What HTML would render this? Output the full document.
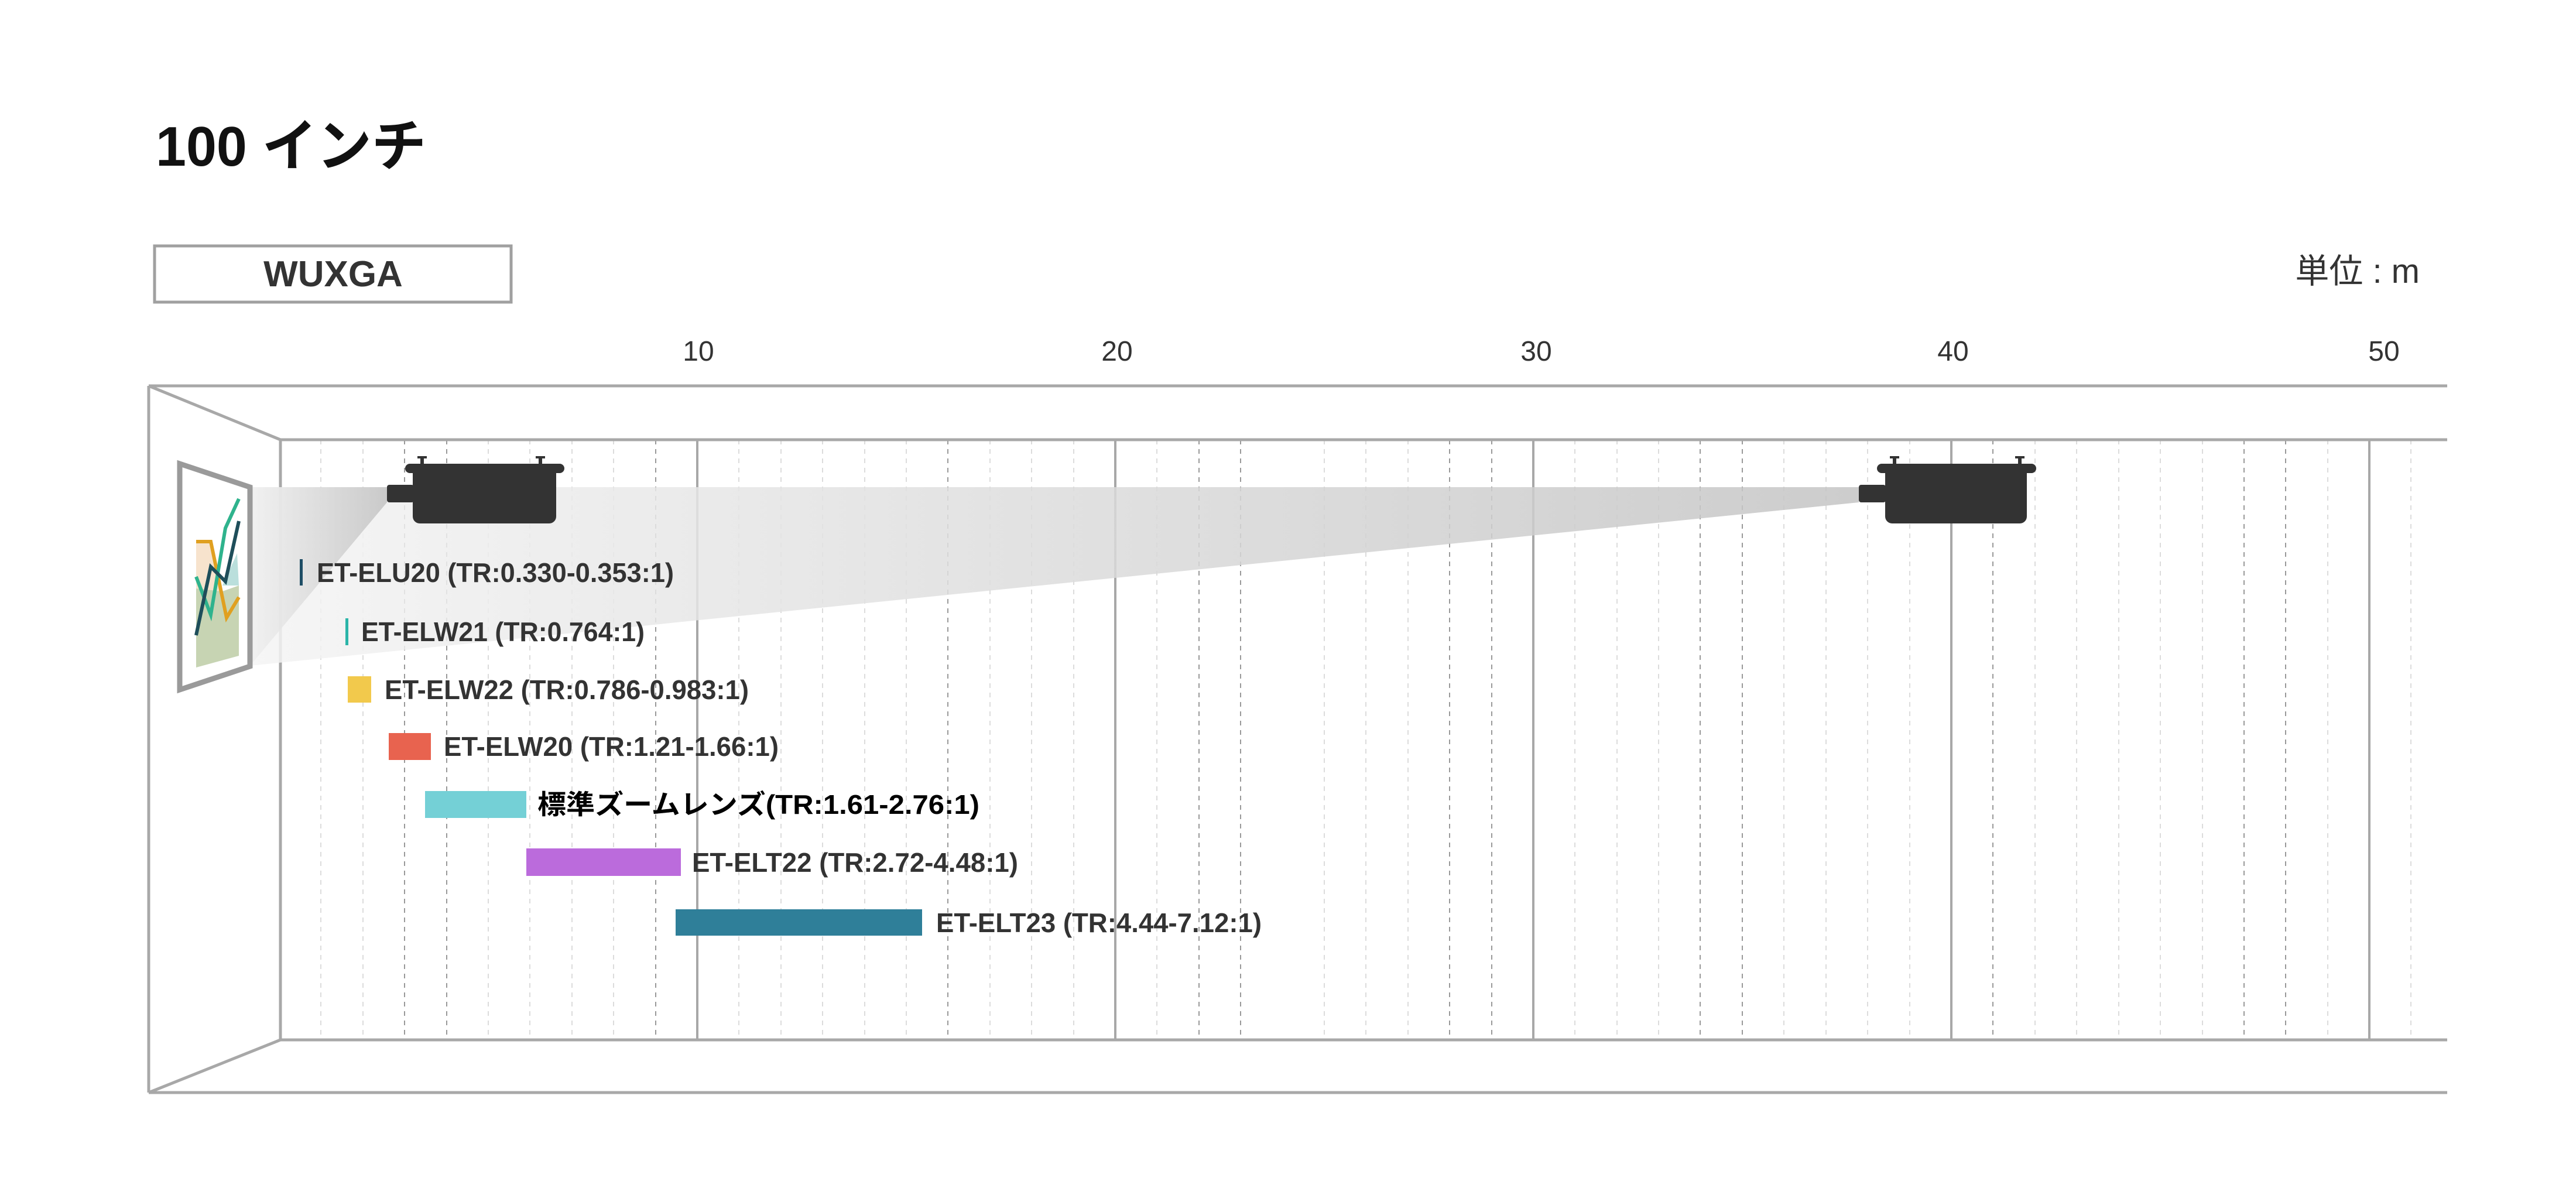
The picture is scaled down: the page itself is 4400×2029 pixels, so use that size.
<!DOCTYPE html>
<html><head><meta charset="utf-8"><style>html,body{margin:0;padding:0;background:#fff}svg{display:block}</style></head><body>
<svg width="4400" height="2029" viewBox="0 0 4400 2029" xmlns="http://www.w3.org/2000/svg">
<defs>
<linearGradient id="gfar" x1="427" y1="0" x2="3175" y2="0" gradientUnits="userSpaceOnUse"><stop offset="0" stop-color="#f4f4f4"/><stop offset="1" stop-color="#c4c4c4"/></linearGradient>
<linearGradient id="gnear" x1="427" y1="0" x2="661" y2="0" gradientUnits="userSpaceOnUse"><stop offset="0" stop-color="#f0f0f0"/><stop offset="1" stop-color="#c0c0c0"/></linearGradient>
</defs>
<rect width="4400" height="2029" fill="#fff"/>
<text x="266" y="283" font-family="Liberation Sans, Noto Sans CJK JP, sans-serif" font-size="96" font-weight="bold" fill="#111" textLength="462" lengthAdjust="spacingAndGlyphs">100 インチ</text>
<rect x="264" y="420" width="609" height="96" fill="#fff" stroke="#a0a0a0" stroke-width="5"/>
<text x="569" y="489" text-anchor="middle" font-family="Liberation Sans, sans-serif" font-size="62" font-weight="bold" fill="#333">WUXGA</text>
<text x="4133" y="483" text-anchor="end" font-family="Liberation Sans, Noto Sans CJK JP, sans-serif" font-size="58" fill="#333">単位 : m</text>
<g font-family="Liberation Sans, sans-serif" font-size="48" fill="#333" text-anchor="middle">
<text x="1193" y="616">10</text><text x="1908" y="616">20</text><text x="2624" y="616">30</text><text x="3336" y="616">40</text><text x="4072" y="616">50</text>
</g>
<g id="grid">
<g stroke="#dcdcdc" stroke-width="2" stroke-dasharray="8,8">
<line x1="548" y1="751" x2="548" y2="1776"/><line x1="620" y1="751" x2="620" y2="1776"/><line x1="834" y1="751" x2="834" y2="1776"/><line x1="905" y1="751" x2="905" y2="1776"/><line x1="977" y1="751" x2="977" y2="1776"/><line x1="1048" y1="751" x2="1048" y2="1776"/><line x1="1262" y1="751" x2="1262" y2="1776"/><line x1="1334" y1="751" x2="1334" y2="1776"/><line x1="1405" y1="751" x2="1405" y2="1776"/><line x1="1477" y1="751" x2="1477" y2="1776"/><line x1="1548" y1="751" x2="1548" y2="1776"/><line x1="1691" y1="751" x2="1691" y2="1776"/><line x1="1762" y1="751" x2="1762" y2="1776"/><line x1="1834" y1="751" x2="1834" y2="1776"/><line x1="1976" y1="751" x2="1976" y2="1776"/><line x1="2048" y1="751" x2="2048" y2="1776"/><line x1="2262" y1="751" x2="2262" y2="1776"/><line x1="2333" y1="751" x2="2333" y2="1776"/><line x1="2405" y1="751" x2="2405" y2="1776"/><line x1="2690" y1="751" x2="2690" y2="1776"/><line x1="2762" y1="751" x2="2762" y2="1776"/><line x1="2833" y1="751" x2="2833" y2="1776"/><line x1="3047" y1="751" x2="3047" y2="1776"/><line x1="3119" y1="751" x2="3119" y2="1776"/><line x1="3190" y1="751" x2="3190" y2="1776"/><line x1="3262" y1="751" x2="3262" y2="1776"/><line x1="3476" y1="751" x2="3476" y2="1776"/><line x1="3547" y1="751" x2="3547" y2="1776"/><line x1="3619" y1="751" x2="3619" y2="1776"/><line x1="3690" y1="751" x2="3690" y2="1776"/><line x1="3762" y1="751" x2="3762" y2="1776"/><line x1="3976" y1="751" x2="3976" y2="1776"/><line x1="4118" y1="751" x2="4118" y2="1776"/>
</g>
<g stroke="#999" stroke-width="2" stroke-dasharray="8,8">
<line x1="691" y1="751" x2="691" y2="1776"/><line x1="763" y1="751" x2="763" y2="1776"/><line x1="1120" y1="751" x2="1120" y2="1776"/><line x1="1619" y1="751" x2="1619" y2="1776"/><line x1="2048" y1="751" x2="2048" y2="1776"/><line x1="2119" y1="751" x2="2119" y2="1776"/><line x1="2476" y1="751" x2="2476" y2="1776"/><line x1="2548" y1="751" x2="2548" y2="1776"/><line x1="2904" y1="751" x2="2904" y2="1776"/><line x1="2976" y1="751" x2="2976" y2="1776"/><line x1="3404" y1="751" x2="3404" y2="1776"/><line x1="3833" y1="751" x2="3833" y2="1776"/><line x1="3904" y1="751" x2="3904" y2="1776"/>
</g>
<g stroke="#a8a8a8" stroke-width="4">
<line x1="1191" y1="751" x2="1191" y2="1776"/><line x1="1905" y1="751" x2="1905" y2="1776"/><line x1="2619" y1="751" x2="2619" y2="1776"/><line x1="3333" y1="751" x2="3333" y2="1776"/><line x1="4047" y1="751" x2="4047" y2="1776"/>
</g>
</g>
<g stroke="#a8a8a8" stroke-width="5" fill="none">
<line x1="254" y1="659" x2="4180" y2="659"/>
<line x1="479" y1="751" x2="4180" y2="751"/>
<line x1="479" y1="1776" x2="4180" y2="1776"/>
<line x1="254" y1="1866" x2="4180" y2="1866"/>
<line x1="254" y1="659" x2="254" y2="1866"/>
<line x1="479" y1="751" x2="479" y2="1776"/>
<line x1="254" y1="659" x2="479" y2="751"/>
<line x1="254" y1="1866" x2="479" y2="1776"/>
</g>
<polygon points="427,832 3175,832 3175,858 427,1137" fill="url(#gfar)" opacity="0.85"/>
<polygon points="427,832 661,832 661,858 427,1137" fill="url(#gnear)" opacity="0.8"/>
<polygon points="307,792 427,832 427,1138 307,1178" fill="#fff" stroke="#9a9a9a" stroke-width="9"/>
<polygon points="335,1005 335,1140 408,1120 408,1000 380,1010" fill="#b9c9a0" opacity="0.8"/>
<polygon points="335,925 360,925 380,1010 335,1005" fill="#f5dcc0" opacity="0.8"/>
<polygon points="380,1000 405,945 408,1000" fill="#a9d7d3" opacity="0.8"/>
<polyline points="335,925 360,925 387,1055 408,1020" fill="none" stroke="#e0a020" stroke-width="6"/>
<polyline points="335,985 360,1050 385,902 408,852" fill="none" stroke="#2fb38d" stroke-width="6"/>
<polyline points="335,1085 360,968 385,993 408,890" fill="none" stroke="#1e4e5a" stroke-width="6"/>
<g fill="#333">
<rect x="705" y="795" width="245" height="99" rx="12"/>
<rect x="692" y="792" width="272" height="16" rx="8"/>
<rect x="661" y="828" width="46" height="30" rx="4"/>
<rect x="718" y="781" width="6" height="14"/><rect x="713" y="779" width="16" height="4"/>
<rect x="920" y="781" width="6" height="14"/><rect x="915" y="779" width="16" height="4"/>
<rect x="3220" y="795" width="242" height="99" rx="12"/>
<rect x="3206" y="792" width="272" height="16" rx="8"/>
<rect x="3175" y="828" width="46" height="30" rx="4"/>
<rect x="3233" y="781" width="6" height="14"/><rect x="3228" y="779" width="16" height="4"/>
<rect x="3447" y="781" width="6" height="14"/><rect x="3442" y="779" width="16" height="4"/>
</g>
<rect x="512" y="955" width="5" height="45" fill="#1f4e66"/>
<rect x="590" y="1056" width="5" height="46" fill="#2bb5a8"/>
<rect x="594" y="1155" width="40" height="45" fill="#f2c94c"/>
<rect x="664" y="1252" width="72" height="46" fill="#e8634f"/>
<rect x="726" y="1351" width="173" height="46" fill="#74d0d6"/>
<rect x="899" y="1449" width="264" height="47" fill="#bb6bdc"/>
<rect x="1154" y="1553" width="421" height="45" fill="#2f7f99"/>
<g font-family="Liberation Sans, Noto Sans CJK JP, sans-serif" font-size="46" font-weight="bold" fill="#333">
<text x="541" y="994" textLength="610" lengthAdjust="spacingAndGlyphs">ET-ELU20 (TR:0.330-0.353:1)</text>
<text x="617" y="1095" textLength="484" lengthAdjust="spacingAndGlyphs">ET-ELW21 (TR:0.764:1)</text>
<text x="657" y="1194" textLength="622" lengthAdjust="spacingAndGlyphs">ET-ELW22 (TR:0.786-0.983:1)</text>
<text x="758" y="1291" textLength="572" lengthAdjust="spacingAndGlyphs">ET-ELW20 (TR:1.21-1.66:1)</text>
<text x="918" y="1390" textLength="755" lengthAdjust="spacingAndGlyphs" fill="#000">標準ズームレンズ(TR:1.61-2.76:1)</text>
<text x="1182" y="1489" textLength="557" lengthAdjust="spacingAndGlyphs">ET-ELT22 (TR:2.72-4.48:1)</text>
<text x="1599" y="1592" textLength="556" lengthAdjust="spacingAndGlyphs">ET-ELT23 (TR:4.44-7.12:1)</text>
</g>
</svg>
</body></html>
